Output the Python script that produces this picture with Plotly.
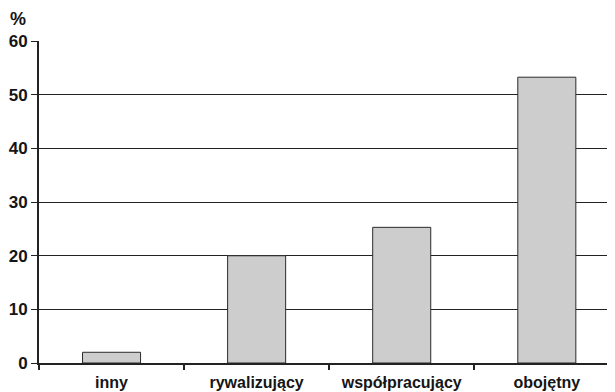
import plotly.graph_objects as go

categories = ["inny", "rywalizujący", "współpracujący", "obojętny"]
values = [2, 20, 25.3, 53.3]
y_ticks = [0, 10, 20, 30, 40, 50, 60]

font_family = "Liberation Sans, Arial, sans-serif"
# page body has an 8px margin; the figure is sized and offset to compensate
fig = go.Figure()
fig.add_trace(go.Bar(
    x=categories,
    y=values,
    marker=dict(color="#cdcdcd", line=dict(color="#2a2a2a", width=1)),
    width=0.4,
))

fig.update_layout(
    width=607, height=384,
    margin=dict(l=31, r=0, t=33, b=29, autoexpand=False),
    paper_bgcolor="white", plot_bgcolor="white",
    showlegend=False,
    font=dict(family=font_family, size=17, color="#151515", weight="bold"),
    annotations=[dict(text="%", x=0, y=1, xref="paper", yref="paper",
                      xanchor="center", yanchor="middle",
                      xshift=-21, yshift=22, showarrow=False,
                      font=dict(size=18, family=font_family, color="#151515", weight="bold"))],
)
fig.update_xaxes(
    type="category", range=[-0.5, 3.47],
    showline=True, linecolor="#222222", linewidth=2,
    ticks="outside", tickson="boundaries", ticklen=5, tickwidth=2, tickcolor="#222222",
    showgrid=False, tickfont=dict(size=16, weight="bold"), automargin=False,
    ticklabelstandoff=4,
)
fig.update_yaxes(
    range=[0, 60.05], tickvals=y_ticks,
    showline=True, linecolor="#222222", linewidth=2,
    ticks="outside", ticklen=6, tickwidth=1, tickcolor="#222222",
    showgrid=True, gridcolor="#222222", gridwidth=1,
    zeroline=False, ticklabelstandoff=0, automargin=False,
    tickfont=dict(size=17, weight="bold"),
)

fig.write_html("out.html")
